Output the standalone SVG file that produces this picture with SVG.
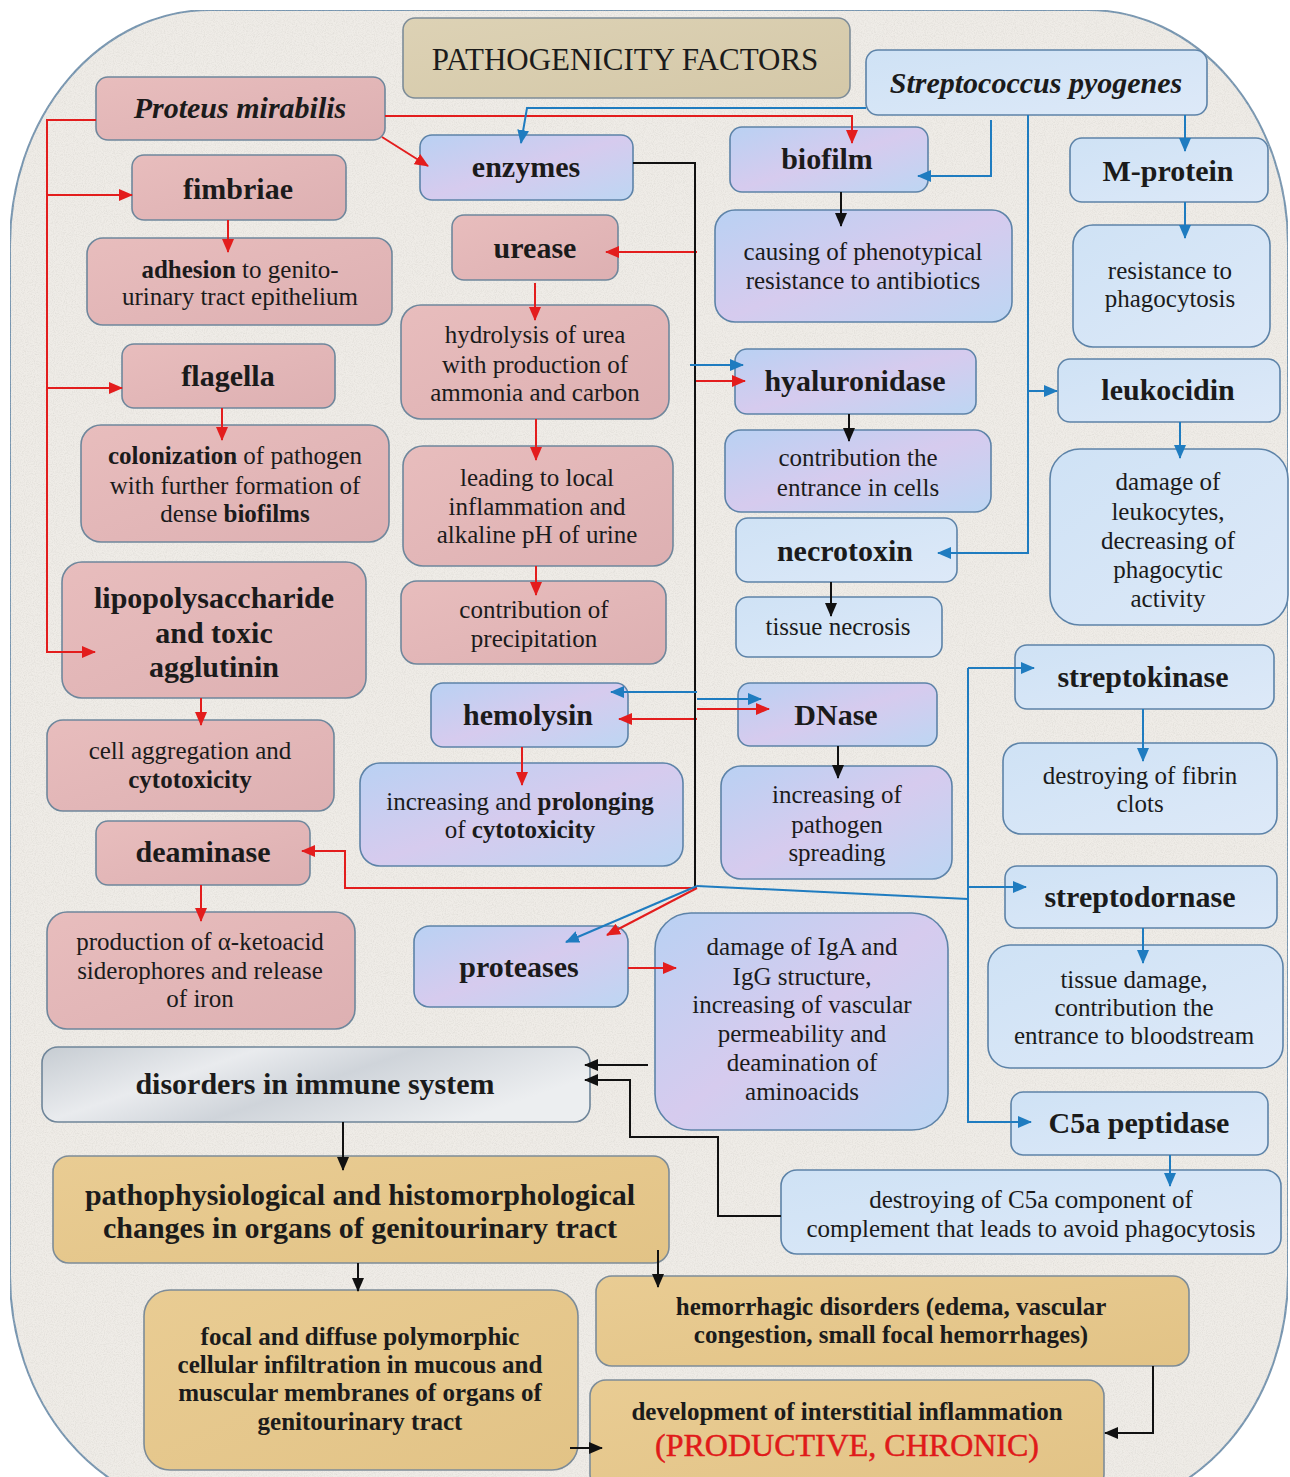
<svg xmlns="http://www.w3.org/2000/svg" width="1290" height="1477" viewBox="0 0 1290 1477">
<style>
.pk{fill:url(#gPink);stroke:#6f879c;stroke-width:1.6}
.bl{fill:url(#gBlue);stroke:#5d83a8;stroke-width:1.6}
.lb{fill:url(#gLight);stroke:#5d83a8;stroke-width:1.6}
.tn{fill:url(#gTan);stroke:#7d8c98;stroke-width:1.6}
.gr{fill:url(#gGray);stroke:#6f8599;stroke-width:1.6}
.ti{fill:url(#gTitle);stroke:#7d8c98;stroke-width:1.6}
text{fill:#1b1b1b;text-anchor:middle}
.h{font-size:30px;font-weight:bold}
.hi{font-size:30px;font-weight:bold;font-style:italic}
.t{font-size:25px}
.tb{font-size:25px;font-weight:bold}
.r{stroke:#e31d1d;stroke-width:2;fill:none}
.b{stroke:#1f7cc0;stroke-width:2;fill:none}
.k{stroke:#111;stroke-width:2;fill:none}
.ra{marker-end:url(#aR)}
.ba{marker-end:url(#aB)}
.ka{marker-end:url(#aK)}
</style>
<defs>
<linearGradient id="gPink" x1="0" y1="0" x2="1" y2="1"><stop offset="0" stop-color="#e8bdbd"/><stop offset="1" stop-color="#ddb0b2"/></linearGradient>
<linearGradient id="gBlue" x1="0" y1="0" x2="1" y2="1"><stop offset="0" stop-color="#b9d1f3"/><stop offset="0.5" stop-color="#d6cbee"/><stop offset="1" stop-color="#bdd6f3"/></linearGradient>
<linearGradient id="gLight" x1="0" y1="0" x2="1" y2="1"><stop offset="0" stop-color="#cfe2f5"/><stop offset="1" stop-color="#dde9f8"/></linearGradient>
<linearGradient id="gTan" x1="0" y1="0" x2="1" y2="1"><stop offset="0" stop-color="#e9cc93"/><stop offset="1" stop-color="#e2c386"/></linearGradient>
<linearGradient id="gTitle" x1="0" y1="0" x2="1" y2="1"><stop offset="0" stop-color="#ddd2b5"/><stop offset="1" stop-color="#d4c8a8"/></linearGradient>
<linearGradient id="gGray" x1="0" y1="0" x2="1" y2="0.4"><stop offset="0" stop-color="#c6ccd2"/><stop offset="0.35" stop-color="#e9ebee"/><stop offset="0.6" stop-color="#cfd4da"/><stop offset="1" stop-color="#eceef0"/></linearGradient>
<filter id="tex" x="0" y="0" width="100%" height="100%">
<feTurbulence type="fractalNoise" baseFrequency="0.9" numOctaves="2" seed="4" result="n"/>
<feColorMatrix in="n" type="matrix" values="0 0 0 0 0.55  0 0 0 0 0.53  0 0 0 0 0.5  0.7 0 0 0 -0.28" result="g"/>
<feComposite in="g" in2="SourceGraphic" operator="in" result="m"/>
<feMerge><feMergeNode in="SourceGraphic"/><feMergeNode in="m"/></feMerge>
</filter>
<marker id="aR" markerWidth="14" markerHeight="12" refX="13" refY="6" orient="auto" markerUnits="userSpaceOnUse"><path d="M0,0 L14,6 L0,12 z" fill="#e31d1d"/></marker>
<marker id="aB" markerWidth="14" markerHeight="12" refX="13" refY="6" orient="auto" markerUnits="userSpaceOnUse"><path d="M0,0 L14,6 L0,12 z" fill="#1f7cc0"/></marker>
<marker id="aK" markerWidth="14" markerHeight="12" refX="13" refY="6" orient="auto" markerUnits="userSpaceOnUse"><path d="M0,0 L14,6 L0,12 z" fill="#111"/></marker>
</defs>

<rect x="0" y="0" width="1290" height="1477" fill="#ffffff"/>
<rect id="background" x="10" y="10" width="1278" height="1500" rx="200" ry="235" fill="#efece7" stroke="#7394b0" stroke-width="2" filter="url(#tex)"/>

<g id="nodes" font-family="Liberation Serif, Tinos, DejaVu Serif, serif">
<g id="title"><rect class="ti" x="403" y="18" width="447" height="80" rx="12"/><text x="625" y="70" style="font-size:31px">PATHOGENICITY FACTORS</text></g>
<g id="proteus"><rect class="pk" x="96" y="77" width="289" height="63" rx="12"/><text class="hi" x="240" y="118">Proteus mirabilis</text></g>
<g id="streptococcus"><rect class="lb" x="866" y="50" width="341" height="65" rx="12"/><text class="hi" x="1036" y="93">Streptococcus pyogenes</text></g>

<g id="enzymes"><rect class="bl" x="420" y="135" width="213" height="65" rx="12"/><text class="h" x="526" y="177">enzymes</text></g>
<g id="biofilm"><rect class="bl" x="730" y="127" width="198" height="65" rx="12"/><text class="h" x="827" y="169">biofilm</text></g>
<g id="m-protein"><rect class="lb" x="1070" y="138" width="198" height="64" rx="12"/><text class="h" x="1168" y="181">M-protein</text></g>
<g id="fimbriae"><rect class="pk" x="132" y="155" width="214" height="65" rx="12"/><text class="h" x="238" y="199">fimbriae</text></g>
<g id="adhesion"><rect class="pk" x="87" y="238" width="305" height="87" rx="16"/><text class="t" x="240" y="278"><tspan font-weight="bold">adhesion</tspan> to genito-</text><text class="t" x="240" y="305">urinary tract epithelium</text></g>
<g id="urease"><rect class="pk" x="452" y="215" width="166" height="65" rx="12"/><text class="h" x="535" y="258">urease</text></g>
<g id="phenotypical-resistance"><rect class="bl" x="715" y="210" width="297" height="112" rx="20"/><text class="t" x="863" y="260">causing of phenotypical</text><text class="t" x="863" y="289">resistance to antibiotics</text></g>
<g id="resistance-phagocytosis"><rect class="lb" x="1073" y="225" width="197" height="122" rx="20"/><text class="t" x="1170" y="279">resistance to</text><text class="t" x="1170" y="307">phagocytosis</text></g>
<g id="hydrolysis"><rect class="pk" x="401" y="305" width="268" height="114" rx="20"/><text class="t" x="535" y="343">hydrolysis of urea</text><text class="t" x="535" y="373">with production of</text><text class="t" x="535" y="401">ammonia and carbon</text></g>
<g id="flagella"><rect class="pk" x="122" y="344" width="213" height="64" rx="12"/><text class="h" x="228" y="386">flagella</text></g>
<g id="hyaluronidase"><rect class="bl" x="735" y="349" width="241" height="65" rx="12"/><text class="h" x="855" y="391">hyaluronidase</text></g>
<g id="leukocidin"><rect class="lb" x="1058" y="359" width="222" height="63" rx="12"/><text class="h" x="1168" y="400">leukocidin</text></g>
<g id="colonization"><rect class="pk" x="81" y="425" width="308" height="117" rx="20"/><text class="t" x="235" y="464"><tspan font-weight="bold">colonization</tspan> of pathogen</text><text class="t" x="235" y="494">with further formation of</text><text class="t" x="235" y="522">dense <tspan font-weight="bold">biofilms</tspan></text></g>
<g id="entrance-cells"><rect class="bl" x="725" y="430" width="266" height="82" rx="16"/><text class="t" x="858" y="466">contribution the</text><text class="t" x="858" y="496">entrance in cells</text></g>
<g id="local-inflammation"><rect class="pk" x="403" y="446" width="270" height="120" rx="20"/><text class="t" x="537" y="486">leading to local</text><text class="t" x="537" y="515">inflammation and</text><text class="t" x="537" y="543">alkaline pH of urine</text></g>
<g id="damage-leukocytes"><rect class="lb" x="1050" y="449" width="238" height="176" rx="30"/><text class="t" x="1168" y="490">damage of</text><text class="t" x="1168" y="520">leukocytes,</text><text class="t" x="1168" y="549">decreasing of</text><text class="t" x="1168" y="578">phagocytic</text><text class="t" x="1168" y="607">activity</text></g>
<g id="necrotoxin"><rect class="lb" x="736" y="518" width="221" height="64" rx="12"/><text class="h" x="845" y="561">necrotoxin</text></g>
<g id="lipopolysaccharide"><rect class="pk" x="62" y="562" width="304" height="136" rx="20"/><text class="h" x="214" y="608">lipopolysaccharide</text><text class="h" x="214" y="643">and toxic</text><text class="h" x="214" y="677">agglutinin</text></g>
<g id="precipitation"><rect class="pk" x="401" y="581" width="265" height="83" rx="16"/><text class="t" x="534" y="618">contribution of</text><text class="t" x="534" y="647">precipitation</text></g>
<g id="tissue-necrosis"><rect class="lb" x="736" y="597" width="206" height="60" rx="12"/><text class="t" x="838" y="635">tissue necrosis</text></g>
<g id="streptokinase"><rect class="lb" x="1015" y="645" width="259" height="64" rx="12"/><text class="h" x="1143" y="687">streptokinase</text></g>
<g id="hemolysin"><rect class="bl" x="431" y="683" width="197" height="64" rx="12"/><text class="h" x="528" y="725">hemolysin</text></g>
<g id="dnase"><rect class="bl" x="738" y="683" width="199" height="63" rx="12"/><text class="h" x="836" y="725">DNase</text></g>
<g id="cell-aggregation"><rect class="pk" x="47" y="720" width="287" height="91" rx="16"/><text class="t" x="190" y="759">cell aggregation and</text><text class="tb" x="190" y="788">cytotoxicity</text></g>
<g id="prolonging-cytotoxicity"><rect class="bl" x="360" y="763" width="323" height="103" rx="20"/><text class="t" x="520" y="810">increasing and <tspan font-weight="bold">prolonging</tspan></text><text class="t" x="520" y="838">of <tspan font-weight="bold">cytotoxicity</tspan></text></g>
<g id="fibrin-clots"><rect class="lb" x="1003" y="743" width="274" height="91" rx="18"/><text class="t" x="1140" y="784">destroying of fibrin</text><text class="t" x="1140" y="812">clots</text></g>
<g id="pathogen-spreading"><rect class="bl" x="721" y="766" width="231" height="113" rx="20"/><text class="t" x="837" y="803">increasing of</text><text class="t" x="837" y="833">pathogen</text><text class="t" x="837" y="861">spreading</text></g>
<g id="deaminase"><rect class="pk" x="96" y="821" width="214" height="64" rx="12"/><text class="h" x="203" y="862">deaminase</text></g>
<g id="streptodornase"><rect class="lb" x="1005" y="866" width="272" height="62" rx="12"/><text class="h" x="1140" y="907">streptodornase</text></g>
<g id="ketoacid"><rect class="pk" x="47" y="912" width="308" height="117" rx="20"/><text class="t" x="200" y="950">production of α-ketoacid</text><text class="t" x="200" y="979">siderophores and release</text><text class="t" x="200" y="1007">of iron</text></g>
<g id="proteases"><rect class="bl" x="414" y="926" width="214" height="81" rx="16"/><text class="h" x="519" y="977">proteases</text></g>
<g id="immunoglobulin-damage"><rect class="bl" x="655" y="913" width="293" height="217" rx="36"/><text class="t" x="802" y="955">damage of IgA and</text><text class="t" x="802" y="985">IgG structure,</text><text class="t" x="802" y="1013">increasing of vascular</text><text class="t" x="802" y="1042">permeability and</text><text class="t" x="802" y="1071">deamination of</text><text class="t" x="802" y="1100">aminoacids</text></g>
<g id="tissue-damage"><rect class="lb" x="988" y="945" width="295" height="123" rx="22"/><text class="t" x="1134" y="988">tissue damage,</text><text class="t" x="1134" y="1016">contribution the</text><text class="t" x="1134" y="1044">entrance to bloodstream</text></g>
<g id="immune-disorders"><rect class="gr" x="42" y="1047" width="548" height="75" rx="16"/><text class="h" x="315" y="1094">disorders in immune system</text></g>
<g id="c5a-peptidase"><rect class="lb" x="1011" y="1092" width="257" height="63" rx="12"/><text class="h" x="1139" y="1133">C5a peptidase</text></g>
<g id="c5a-destroying"><rect class="lb" x="781" y="1170" width="500" height="84" rx="16"/><text class="t" x="1031" y="1208">destroying of C5a component of</text><text class="t" x="1031" y="1237">complement that leads to avoid phagocytosis</text></g>
<g id="pathophysiological"><rect class="tn" x="53" y="1156" width="616" height="107" rx="16"/><text class="h" x="360" y="1205">pathophysiological and histomorphological</text><text class="h" x="360" y="1238">changes in organs of genitourinary tract</text></g>
<g id="hemorrhagic"><rect class="tn" x="596" y="1276" width="593" height="90" rx="16"/><text class="tb" x="891" y="1315">hemorrhagic disorders (edema, vascular</text><text class="tb" x="891" y="1343">congestion, small focal hemorrhages)</text></g>
<g id="infiltration"><rect class="tn" x="144" y="1290" width="434" height="180" rx="26"/><text class="tb" x="360" y="1345">focal and diffuse polymorphic</text><text class="tb" x="360" y="1373">cellular infiltration in mucous and</text><text class="tb" x="360" y="1401">muscular membranes of organs of</text><text class="tb" x="360" y="1430">genitourinary tract</text></g>
<g id="interstitial-inflammation"><rect class="tn" x="590" y="1380" width="514" height="110" rx="16"/><text class="tb" x="847" y="1420">development of interstitial inflammation</text><text x="847" y="1456" style="font-size:32px;fill:#e01a1a;stroke:#e01a1a;stroke-width:0.5">(PRODUCTIVE, CHRONIC)</text></g>
</g>

<g id="connectors">
<path class="r ra" d="M96,120 H47 V652 H95"/>
<path class="r ra" d="M47,195 H132"/>
<path class="r ra" d="M47,388 H122"/>
<path class="r ra" d="M382,137 L428,166"/>
<path class="r ra" d="M385,116 H852 V143"/>
<path class="r ra" d="M697,252 H606"/>
<path class="r ra" d="M228,220 V252"/>
<path class="r ra" d="M222,408 V440"/>
<path class="r ra" d="M201,698 V725"/>
<path class="r ra" d="M201,885 V921"/>
<path class="r ra" d="M535,283 V320"/>
<path class="r ra" d="M536,419 V460"/>
<path class="r ra" d="M536,566 V595"/>
<path class="r ra" d="M522,747 V785"/>
<path class="r ra" d="M694,381 H745"/>
<path class="r ra" d="M697,719 H619"/>
<path class="r ra" d="M697,709 H769"/>
<path class="r ra" d="M697,888 H345 V851 H302"/>
<path class="r ra" d="M697,888 L607,935"/>
<path class="r ra" d="M628,968 H676"/>
<path class="k" d="M633,163 H695 V888"/>
<path class="k ka" d="M841,192 V226"/>
<path class="k ka" d="M849,414 V441"/>
<path class="k ka" d="M831,582 V616"/>
<path class="k ka" d="M838,746 V778"/>
<path class="k ka" d="M648,1065 H585"/>
<path class="k ka" d="M781,1216 H718 V1137 H630 V1080 H585"/>
<path class="k ka" d="M343,1122 V1170"/>
<path class="k ka" d="M358,1263 V1291"/>
<path class="k ka" d="M658,1250 V1287"/>
<path class="k ka" d="M570,1448 H602"/>
<path class="k ka" d="M1153,1366 V1433 H1105"/>
<path class="b ba" d="M866,108 H527 L521,143"/>
<path class="b ba" d="M991,120 V176 H918"/>
<path class="b ba" d="M1185,115 V151"/>
<path class="b ba" d="M1185,202 V238"/>
<path class="b ba" d="M1028,115 V553 H938"/>
<path class="b ba" d="M1028,391 H1057"/>
<path class="b ba" d="M1180,422 V458"/>
<path class="b ba" d="M690,365 H743"/>
<path class="b ba" d="M697,692 H611"/>
<path class="b ba" d="M697,699 H761"/>
<path class="b ba" d="M697,886 L566,942"/>
<path class="b" d="M697,886 L968,899"/>
<path class="b ba" d="M968,668 V1122 H1031"/>
<path class="b ba" d="M968,668 H1034"/>
<path class="b ba" d="M968,887 H1026"/>
<path class="b ba" d="M1143,709 V761"/>
<path class="b ba" d="M1143,928 V963"/>
<path class="b ba" d="M1170,1155 V1186"/>
</g>
</svg>
